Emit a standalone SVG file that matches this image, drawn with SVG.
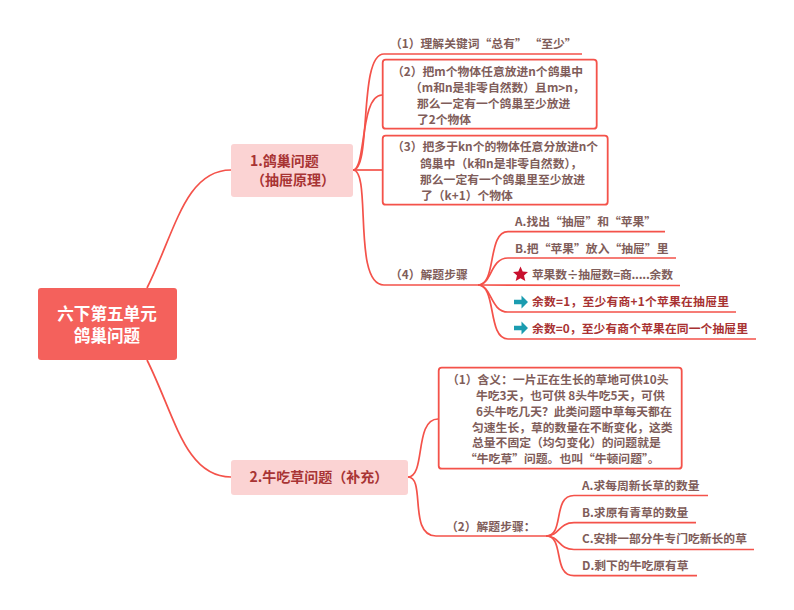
<svg xmlns="http://www.w3.org/2000/svg" width="794" height="610" viewBox="0 0 794 610">
<style>
text{font-family:"Noto Sans CJK SC","Liberation Sans",sans-serif;font-size:11.8px;font-weight:700;fill:#7f5d5a}
.r{fill:#a83232}
.t{font-size:14px;font-weight:700;fill:#a83434}
.c{font-size:16.6px;font-weight:700;fill:#fff;text-anchor:middle}
.b{fill:#fff;stroke:#f4524a;stroke-width:1.8}
.n{fill:#fbd3d3}
#links path{fill:none;stroke:#f4524a;stroke-width:1.7}
</style>
<rect width="794" height="610" fill="#fff"/>
<g id="links">
<path d="M147 288C175 232 185 170 231 170"/>
<path d="M147 360C175 416 185 477 231 477"/>
<path d="M353 170C372 170 358 54 384 54L582 54"/>
<path d="M353 170C366 170 360 95 382 95"/>
<path d="M353 170L382 170"/>
<path d="M353 170C372 170 352 285 384 285L478 285"/>
<path d="M478 285C497 285 487 231.6 508 231.6L665 231.6"/>
<path d="M478 285C492 285 490 258 508 258L676 258"/>
<path d="M478 285L680 285.500"/>
<path d="M478 285C492 285 490 312 508 312L736 312"/>
<path d="M478 285C497 285 487 339 508 339L756 339"/>
<path d="M408 477C426 477 414 419 438 419"/>
<path d="M408 477C426 477 408 536 436 536L546 536"/>
<path d="M546 536C565 536 552 495.500 574 495.500L708 495.500"/>
<path d="M546 536C560 536 558 522.700 574 522.700L696 522.700"/>
<path d="M546 536C560 536 558 549.500 574 549.500L754 549.500"/>
<path d="M546 536C565 536 552 575.700 574 575.700L697 575.700"/>
</g>
<g id="root"><rect x="38" y="288" width="139" height="72" rx="3" fill="#f4615c"/>
<text class="c" x="107" y="320">六下第五单元</text><text class="c" x="107" y="342">鸽巢问题</text></g>
<g id="n1"><rect class="n" x="231" y="144" width="122" height="53" rx="3"/>
<text class="t" x="250" y="166">1.鸽巢问题</text><text class="t" x="251" y="185">（抽屉原理）</text></g>
<g id="n2"><rect class="n" x="231" y="460" width="177" height="35" rx="3"/>
<text class="t" x="249.500" y="482">2.牛吃草问题（补充）</text></g>
<g id="n1-1"><text x="390" y="48">（1）理解关键词“总有” “至少”</text></g>
<g id="n1-2"><rect class="b" x="382.700" y="59.700" width="214" height="69" rx="3"/>
<text x="392" y="76">（2）把m个物体任意放进n个鸽巢中</text>
<text x="410" y="91.500">（m和n是非零自然数）且m&gt;n，</text>
<text x="417" y="108">那么一定有一个鸽巢至少放进</text>
<text x="417" y="124">了2个物体</text></g>
<g id="n1-3"><rect class="b" x="382.700" y="135.700" width="225" height="69" rx="3"/>
<text x="392" y="151">（3）把多于kn个的物体任意分放进n个</text>
<text x="420" y="167.500">鸽巢中（k和n是非零自然数），</text>
<text x="420" y="183.500">那么一定有一个鸽巢里至少放进</text>
<text x="421" y="199.500">了（k+1）个物体</text></g>
<g id="n1-4"><text x="390" y="278.500">（4）解题步骤</text></g>
<g id="n1-4-a"><text x="515" y="226">A.找出“抽屉”和“苹果”</text></g>
<g id="n1-4-b"><text x="515" y="252.500">B.把“苹果”放入“抽屉”里</text></g>
<g id="n1-4-c"><polygon points="520.500,266.500 522.700,271.500 528,272 524,275.600 525.300,281 520.500,278.200 515.700,281 517,275.600 513,272 518.300,271.500" fill="#c8102e"/>
<text x="532" y="278.500" textLength="141">苹果数÷抽屉数=商.....余数</text></g>
<g id="n1-4-d"><path d="M514 299.800H521.500V295.500L528 302L521.500 308.500V304.200H514Z" fill="#1a9cb0"/>
<text class="r" x="532" y="306" textLength="197">余数=1，至少有商+1个苹果在抽屉里</text></g>
<g id="n1-4-e"><path d="M514 325.800H521.500V321.500L528 328L521.500 334.500V330.200H514Z" fill="#1a9cb0"/>
<text class="r" x="532" y="332.500" textLength="216">余数=0，至少有商个苹果在同一个抽屉里</text></g>
<g id="n2-1"><rect class="b" x="438.700" y="367.700" width="243" height="101" rx="3"/>
<text x="447" y="383.500">（1）含义：一片正在生长的草地可供10头</text>
<text x="476" y="399.500">牛吃3天，也可供 8头牛吃5天，可供</text>
<text x="476" y="415.500">6头牛吃几天？此类问题中草每天都在</text>
<text x="472" y="431.500">匀速生长，草的数量在不断变化，这类</text>
<text x="472" y="447">总量不固定（均匀变化）的问题就是</text>
<text x="465" y="463">“牛吃草”问题。也叫“牛顿问题”。</text></g>
<g id="n2-2"><text x="446" y="530.500">（2）解题步骤：</text></g>
<g id="n2-2-a"><text x="582" y="489.500">A.求每周新长草的数量</text></g>
<g id="n2-2-b"><text x="582" y="516.500">B.求原有青草的数量</text></g>
<g id="n2-2-c"><text x="582" y="543">C.安排一部分牛专门吃新长的草</text></g>
<g id="n2-2-d"><text x="582" y="569.500">D.剩下的牛吃原有草</text></g>
</svg>
